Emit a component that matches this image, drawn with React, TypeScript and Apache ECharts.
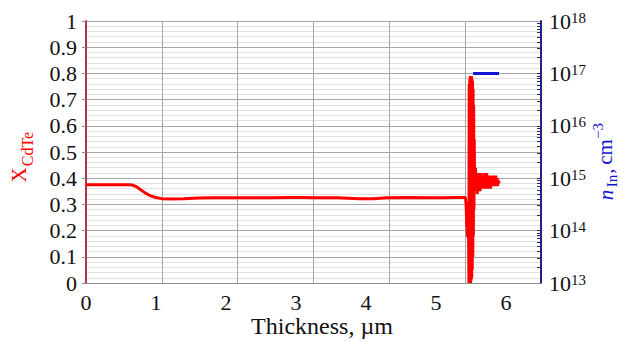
import React, { useEffect, useRef } from 'react';
import * as echarts from 'echarts';

// X_CdTe profile versus thickness (µm)
const thickness = [
  0, 0.3, 0.6, 0.66, 0.72, 0.78, 0.85, 0.92, 1.0, 1.08, 1.2, 1.4, 1.6, 1.8, 2.0, 2.3, 2.6, 2.9,
  3.1, 3.3, 3.6, 3.9, 4.1, 4.3, 4.6, 4.9, 5.1, 5.3, 5.42,
  5.43, 5.44, 5.45, 5.46, 5.465, 5.47, 5.474, 5.478, 5.482, 5.486, 5.49, 5.494, 5.498, 5.502,
  5.506, 5.51, 5.514, 5.518, 5.522, 5.526, 5.53, 5.534, 5.538, 5.542, 5.546, 5.55,
  5.555, 5.56, 5.565, 5.57, 5.575, 5.58, 5.585, 5.59, 5.595, 5.6, 5.605, 5.61, 5.615, 5.62,
  5.625, 5.63, 5.635, 5.64, 5.645, 5.65, 5.655, 5.66, 5.665, 5.67, 5.675, 5.68, 5.685, 5.69,
  5.695, 5.7, 5.705, 5.71, 5.715, 5.72, 5.725, 5.73, 5.735, 5.74, 5.745, 5.75, 5.755, 5.76,
  5.765, 5.77, 5.775, 5.78, 5.785, 5.79, 5.795, 5.8, 5.805, 5.81, 5.815, 5.82, 5.825, 5.83,
  5.835, 5.84, 5.845, 5.85, 5.855, 5.86, 5.865, 5.87, 5.875, 5.88, 5.885, 5.89, 5.895, 5.9,
];
const xCdTe = [
  0.375, 0.375, 0.375, 0.374, 0.368, 0.356, 0.343, 0.333, 0.326, 0.322, 0.321, 0.322, 0.324, 0.325, 0.325, 0.325, 0.325, 0.326,
  0.326, 0.325, 0.325, 0.322, 0.322, 0.325, 0.326, 0.325, 0.325, 0.326, 0.326,
  0.3, 0.22, 0.18, 0.176, 0.19, 0.0, 0.76, 0.0, 0.78, 0.0, 0.79, 0.0, 0.79, 0.01,
  0.79, 0.02, 0.78, 0.05, 0.77, 0.1, 0.74, 0.18, 0.68, 0.28, 0.55, 0.43,
  0.44, 0.38, 0.44, 0.36, 0.42, 0.35, 0.41, 0.34, 0.4, 0.35, 0.42, 0.37, 0.41, 0.36,
  0.4, 0.35, 0.41, 0.37, 0.42, 0.36, 0.4, 0.37, 0.41, 0.36, 0.4, 0.37, 0.41, 0.38,
  0.42, 0.37, 0.4, 0.36, 0.41, 0.38, 0.42, 0.37, 0.4, 0.36, 0.41, 0.37, 0.4, 0.38,
  0.41, 0.37, 0.4, 0.36, 0.39, 0.38, 0.41, 0.37, 0.4, 0.38, 0.41, 0.37, 0.4, 0.38,
  0.41, 0.37, 0.4, 0.38, 0.41, 0.37, 0.4, 0.38, 0.4, 0.37, 0.39, 0.38, 0.39, 0.38,
];

// In concentration (cm^-3) versus thickness (µm)
const inThickness = [5.53, 5.9];
const nIn = [1e17, 1e17];

// axis tick labels
const xTickLabels = ['0', '1', '2', '3', '4', '5', '6'];
const logExponents = [13, 14, 15, 16, 17, 18];

const FONT = 'Liberation Serif';

export default function App() {
  const ref = useRef<HTMLDivElement>(null);

  useEffect(() => {
    document.body.style.margin = '0';
    if (!ref.current) return;
    const chart = echarts.init(ref.current, null, { renderer: 'svg' });

    const logTicks: number[] = [];
    for (let k = 0; k < logExponents.length; k++) {
      const e = logExponents[k];
      logTicks.push(Math.pow(10, e));
      if (k < logExponents.length - 1) {
        for (let m = 2; m <= 9; m++) logTicks.push(m * Math.pow(10, e));
      }
    }

    const txt = (x: number, y: number, text: string, size: number, color: string, italic = false) => ({
      type: 'text',
      x,
      y,
      rotation: Math.PI / 2,
      style: {
        text,
        fontFamily: FONT,
        fontSize: size,
        fontStyle: italic ? 'italic' : 'normal',
        fill: color,
        align: 'center',
        verticalAlign: 'middle',
      },
    });

    const option: any = {
      animation: false,
      backgroundColor: '#ffffff',
      textStyle: { fontFamily: FONT },
      grid: { left: 86, right: 87, top: 21, bottom: 62, containLabel: false },
      xAxis: [
        {
          type: 'value',
          min: 0,
          max: 6.5,
          interval: 1,
          axisLine: { show: true, onZero: false, lineStyle: { color: '#8c8c8c', width: 1 } },
          axisTick: { show: false },
          splitLine: { show: false },
          axisLabel: {
            color: '#111',
            fontFamily: FONT,
            fontStyle: 'normal',
            fontSize: 22,
            margin: 8,
            formatter: (v: number) => (Number.isInteger(v) && xTickLabels[v] !== undefined ? xTickLabels[v] : ''),
          },
        },
        {
          type: 'value',
          min: 0,
          max: 6,
          interval: 1,
          position: 'bottom',
          axisLine: { show: false, onZero: false },
          axisTick: { show: false },
          axisLabel: { show: false },
          splitLine: { show: true, lineStyle: { color: '#a6a6a6', width: 1 } },
        },
      ],
      yAxis: [
        {
          type: 'value',
          min: 0,
          max: 1,
          interval: 0.1,
          position: 'left',
          axisLine: { show: true, onZero: false, lineStyle: { color: '#b8324c', width: 2 } },
          axisTick: { show: true, inside: false, length: 4, lineStyle: { color: '#8c8c8c' } },
          axisLabel: { color: '#111', fontFamily: FONT, fontStyle: 'normal', fontSize: 22, margin: 9 },
          splitLine: { show: true, lineStyle: { color: '#a6a6a6', width: 1 } },
          minorTick: { show: false, splitNumber: 5 },
          minorSplitLine: { show: true, lineStyle: { color: '#e0e0e0', width: 1 } },
        },
        {
          type: 'log',
          logBase: 10,
          min: 1e13,
          max: 1e18,
          splitNumber: 5,
          position: 'right',
          axisLine: { show: true, onZero: false, lineStyle: { color: '#23237e', width: 2 } },
          axisTick: { show: true, inside: true, length: 4, customValues: logTicks, lineStyle: { color: '#23237e' } },
          splitLine: { show: false },
          axisLabel: {
            margin: 8,
            fontFamily: FONT,
            color: '#111',
            formatter: (v: number) => `{b|10}{s|${Math.round(Math.log10(v))}}`,
            rich: {
              b: { fontSize: 22, fontFamily: FONT, fontStyle: 'normal', color: '#111' },
              s: { fontSize: 15, fontFamily: FONT, fontStyle: 'normal', color: '#111', verticalAlign: 'top', padding: [0, 0, 6, 0] },
            },
          },
        },
      ],
      series: [
        {
          type: 'line',
          name: 'XCdTe',
          xAxisIndex: 0,
          yAxisIndex: 0,
          data: thickness.map((t, i) => [t, xCdTe[i]]),
          showSymbol: false,
          symbol: 'none',
          lineStyle: { color: '#ff0000', width: 3 },
          z: 3,
        },
        {
          type: 'line',
          name: 'nIn',
          xAxisIndex: 0,
          yAxisIndex: 1,
          data: inThickness.map((t, i) => [t, nIn[i]]),
          showSymbol: false,
          symbol: 'none',
          lineStyle: { color: '#1515d6', width: 3 },
          z: 4,
        },
      ],
      graphic: [
        {
          type: 'text',
          x: 322,
          y: 326,
          style: {
            text: 'Thickness, µm',
            fontFamily: FONT,
            fontStyle: 'normal',
            fontSize: 24,
            fill: '#111',
            align: 'center',
            verticalAlign: 'middle',
          },
        },
        txt(19, 175, 'X', 21, '#ff0000'),
        txt(27, 149, 'CdTe', 16, '#ff0000'),
        txt(606, 195, 'n', 21, '#1515d6', true),
        txt(612, 181, 'In', 15, '#1515d6'),
        txt(606, 171, ',', 21, '#1515d6'),
        txt(605, 152, 'cm', 21, '#1515d6'),
        txt(598, 131, '−3', 15, '#1515d6'),
      ],
    };

    chart.setOption(option);
    return () => chart.dispose();
  }, []);

  return <div ref={ref} style={{ width: 628, height: 345 }} />;
}
